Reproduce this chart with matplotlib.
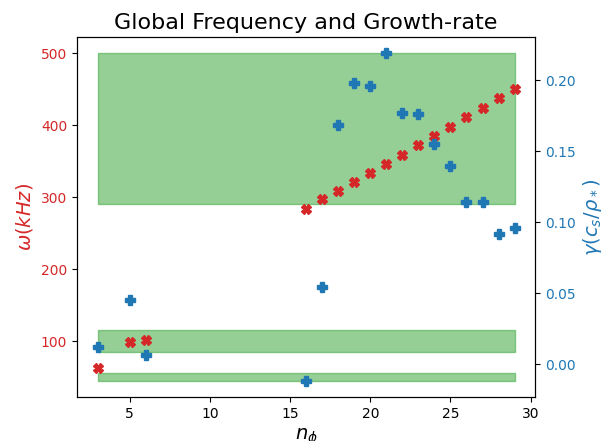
import matplotlib
matplotlib.use("Agg")
import matplotlib.pyplot as plt

n_red = [3, 5, 6, 16, 17, 18, 19, 20, 21, 22, 23, 24, 25, 26, 27, 28, 29]
omega = [63, 99, 101, 284, 297, 308, 321, 334, 346, 359, 372, 385, 398, 411, 424, 438, 451]

n_blue = [3, 5, 6, 16, 17, 18, 19, 20, 21, 22, 23, 24, 25, 26, 27, 28, 29]
gamma = [0.0122, 0.045, 0.0064, -0.0115, 0.0544, 0.1687, 0.1979, 0.196, 0.219,
         0.177, 0.1765, 0.1553, 0.140, 0.1143, 0.1143, 0.0917, 0.0959]

band_x = [3, 29]
bands = [(290, 500), (85, 115), (45, 55)]

fig, ax1 = plt.subplots(figsize=(6.05, 4.41), dpi=100)
fig.subplots_adjust(left=0.127, right=0.885, top=0.916, bottom=0.0998)

for lo, hi in bands:
    ax1.fill_between(band_x, [lo, lo], [hi, hi], color='tab:green', alpha=0.5)

ax1.plot(n_red, omega, 'X', color='tab:red', markersize=7, linestyle='none')
ax1.set_ylabel(r'$\omega (kHz)$', color='tab:red', fontsize=14)
ax1.tick_params(axis='y', labelcolor='tab:red')
ax1.set_xlabel(r'$n_\phi$', fontsize=14)
ax1.set_title('Global Frequency and Growth-rate', fontsize=16)

ax2 = ax1.twinx()
ax2.plot(n_blue, gamma, 'P', color='tab:blue', markersize=7, linestyle='none')
ax2.set_ylabel(r'$\gamma (c_s/\rho_*)$', color='tab:blue', fontsize=14)
ax2.tick_params(axis='y', labelcolor='tab:blue')

fig.savefig('out.png', dpi=100)
